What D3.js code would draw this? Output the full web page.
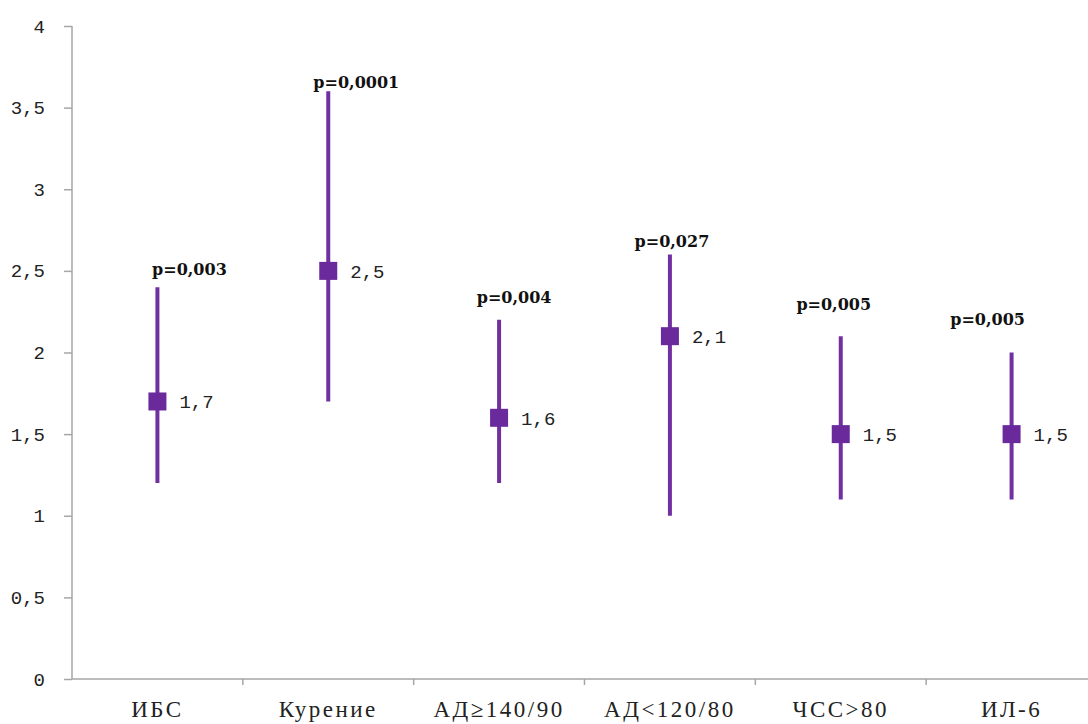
<!DOCTYPE html>
<html>
<head>
<meta charset="utf-8">
<script src="https://cdn.jsdelivr.net/npm/d3@7"></script>
<style>
  body { margin: 0; background: #fff; }
  .axis path, .axis line { stroke: #a6a6a6; stroke-width: 1.5; }
  .y.axis text { font-family: "Liberation Mono", monospace; font-size: 19px; fill: #222; }
  .x.axis text { font-family: "Liberation Serif", serif; font-size: 23px; letter-spacing: 2.5px; fill: #222; }
  .val { font-family: "Liberation Mono", monospace; font-size: 19px; fill: #222; }
  .pval { font-family: "DejaVu Serif", serif; font-size: 16px; font-weight: bold; fill: #111; }
</style>
</head>
<body>
<svg id="chart"></svg>
<script>
// data
const categories = ['ИБС', 'Курение', 'АД≥140/90', 'АД<120/80', 'ЧСС>80', 'ИЛ-6'];
const values = [1.7, 2.5, 1.6, 2.1, 1.5, 1.5];
const lows = [1.2, 1.7, 1.2, 1.0, 1.1, 1.1];
const highs = [2.4, 3.6, 2.2, 2.6, 2.1, 2.0];
const pLabels = ['p=0,003', 'p=0,0001', 'p=0,004', 'p=0,027', 'p=0,005', 'p=0,005'];
const yTicks = [0, 0.5, 1, 1.5, 2, 2.5, 3, 3.5, 4];

// hand-placed p-label nudges (px), like in the original
const pDx = [32, 28, 15, 2, -7, -24];
const pDy = [-12, -3, -17, -8, -26, -28];

const width = 1088, height = 724;
const margin = { top: 26, right: -9, bottom: 45, left: 72 };

const svg = d3.select('#chart').attr('width', width).attr('height', height);

const x = d3.scaleBand()
    .domain(categories)
    .range([margin.left, width - margin.right]);
const y = d3.scaleLinear()
    .domain([0, 4])
    .range([height - margin.bottom, margin.top]);

const fmt = v => String(v).replace('.', ',');

const rows = categories.map((c, i) => ({
    cat: c, v: values[i], lo: lows[i], hi: highs[i], p: pLabels[i], dx: pDx[i], dy: pDy[i]
}));

// axes
const yAxis = svg.append('g')
    .attr('class', 'y axis')
    .attr('transform', `translate(${margin.left},0)`)
    .call(d3.axisLeft(y).tickValues(yTicks).tickSize(8).tickPadding(19).tickFormat(fmt));
yAxis.select('.domain').attr('d', `M0,${y(4)}V${y(0)}`);

const xAxis = svg.append('g')
    .attr('class', 'x axis')
    .attr('transform', `translate(0,${y(0)})`)
    .call(d3.axisBottom(x).tickSize(0).tickPadding(22));
xAxis.select('.domain').attr('d', `M${margin.left},0H${width}`);
xAxis.selectAll('.bound')
    .data(categories.slice(1))
    .enter().append('line')
    .attr('class', 'bound')
    .attr('x1', d => x(d)).attr('x2', d => x(d))
    .attr('y1', 0).attr('y2', 6);

// error bars
const cx = d => x(d.cat) + x.bandwidth() / 2;
svg.selectAll('.err')
    .data(rows)
    .enter().append('line')
    .attr('class', 'err')
    .attr('x1', cx).attr('x2', cx)
    .attr('y1', d => y(d.lo)).attr('y2', d => y(d.hi))
    .attr('stroke', '#7030a0')
    .attr('stroke-width', 4);

// markers
const ms = 18;
svg.selectAll('.mark')
    .data(rows)
    .enter().append('rect')
    .attr('class', 'mark')
    .attr('x', d => cx(d) - ms / 2)
    .attr('y', d => y(d.v) - ms / 2)
    .attr('width', ms).attr('height', ms)
    .attr('fill', '#6a2a9c');

svg.selectAll('.val')
    .data(rows)
    .enter().append('text')
    .attr('class', 'val')
    .attr('x', d => cx(d) + 22)
    .attr('y', d => y(d.v) + 7)
    .text(d => fmt(d.v));

svg.selectAll('.pval')
    .data(rows)
    .enter().append('text')
    .attr('class', 'pval')
    .attr('text-anchor', 'middle')
    .attr('x', d => cx(d) + d.dx)
    .attr('y', d => y(d.hi) + d.dy)
    .text(d => d.p);
</script>
</body>
</html>
